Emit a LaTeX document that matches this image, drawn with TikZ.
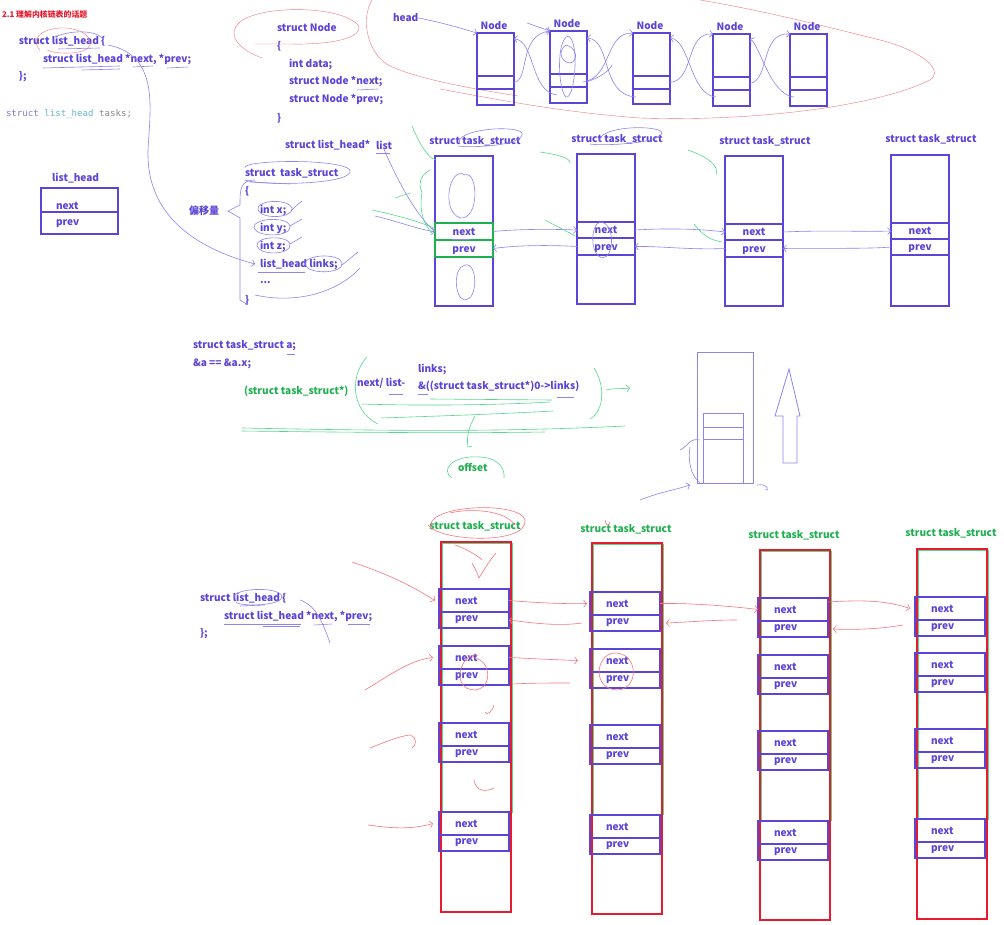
\documentclass[tikz,border=0pt]{standalone}
\usepackage{fontspec}
\setmainfont{Noto Sans CJK SC}
\setmonofont{DejaVu Sans Mono}
\usetikzlibrary{arrows.meta}
\definecolor{pu}{HTML}{5B45D6}
\definecolor{lav}{HTML}{8E84EE}
\definecolor{rd}{HTML}{E81B2E}
\definecolor{pk}{HTML}{F4767E}
\definecolor{gr}{HTML}{1FB04F}
\definecolor{lgr}{HTML}{55D88E}
\definecolor{kw}{HTML}{7B7BD0}
\definecolor{ty}{HTML}{6CB4CC}
\definecolor{gy}{HTML}{8A8A8A}
\begin{document}
\begin{tikzpicture}[x=1pt,y=-1pt,
  every node/.style={inner sep=0pt, outer sep=0pt},
  tx/.style={font=\bfseries\fontsize{10.1}{12}\selectfont, text=pu, anchor=west},
  tc/.style={font=\bfseries\fontsize{10.1}{12}\selectfont, text=pu},
  gt/.style={font=\bfseries\fontsize{10.1}{12}\selectfont, text=gr},
  bx/.style={draw=pu, line width=1.3pt, anchor=north west},
  pcell/.style={draw=pu, line width=1.5pt, anchor=north west, minimum width=70},
  rbox/.style={draw=rd, line width=1.8pt, anchor=north west, minimum width=70},
  sk/.style={draw=lav, line width=0.6pt},
  ska/.style={sk, -{Straight Barb[length=3pt,width=7pt]}},
  rsk/.style={draw=pk, line width=0.6pt},
  rska/.style={rsk, -{Straight Barb[length=3pt,width=7pt]}},
  gsk/.style={draw=lgr, line width=0.6pt},
  gska/.style={gsk, -{Straight Barb[length=3pt,width=7pt]}}
]
\fill[white] (0,0) rectangle (1004,925);
\useasboundingbox (0,0) rectangle (1004,925);

% ---------- top left ----------
\node[anchor=west, text=rd, font=\bfseries\fontsize{7.9}{9}\selectfont] (title) at (2,14) {2.1 理解内核链表的话题};
\node[tx] (lh1) at (19,41) {struct list\_head \{};
\node[tx] (lh2) at (43,59) {struct list\_head *next, *prev;};
\node[tx] (lh3) at (19,77) {\};};
\node[anchor=west, font=\ttfamily\fontsize{9.1}{11}\selectfont] (tasks) at (6,114) {\textcolor{kw}{struct} \textcolor{ty}{list\_head} \textcolor{gy}{tasks;}};
\draw[pk] (40,50) .. controls (28,38) and (45,27) .. (65,28) .. controls (85,29) and (95,40) .. (88,48) .. controls (80,55) and (55,54) .. (47,50);
\draw[sk] (55,37) .. controls (70,30) and (95,30) .. (102,38);
\draw[sk] (58,49) -- (100,48);
\draw[sk] (43,68) -- (120,66);
\draw[sk] (82,70) -- (120,69);
\draw[sk] (133,67) -- (153,66);
\draw[sk] (167,68) -- (188,67);

% list_head box
\node[tx] (lhl) at (52,178) {list\_head};
\node[bx, minimum width=77, minimum height=24] (LHn) at (41,188) {};
\node[bx, minimum width=77, minimum height=22] (LHp) at (41,212) {};
\node[tx] (LHnt) at (56,206) {next};
\node[tx] (LHpt) at (56,224) {prev};

% ---------- struct Node ----------
\node[tx] (sn1) at (277,28) {struct Node};
\node[tx] (sn2) at (277,46) {\{};
\node[tx] (sn3) at (289,64) {int data;};
\node[tx] (sn4) at (289,82) {struct Node *next;};
\node[tx] (sn5) at (289,100) {struct Node *prev;};
\node[tx] (sn6) at (277,118) {\}};
\draw[sk] (357,90) -- (378,89);
\draw[pk] (262,58) .. controls (240,50) and (225,35) .. (240,22) .. controls (260,5) and (340,5) .. (358,25) .. controls (365,38) and (330,45) .. (290,44) .. controls (270,44) and (258,44) .. (255,44);
\draw[pk] (372,0) .. controls (360,20) and (368,55) .. (390,66) .. controls (420,80) and (480,90) .. (518,96);
\draw[pk] (440,89) .. controls (500,100) and (560,112) .. (640,118) .. controls (760,122) and (880,105) .. (930,80) .. controls (945,70) and (920,50) .. (880,40) .. controls (820,25) and (760,10) .. (700,0);

\node[tx] (head) at (393,18) {head};
\foreach \i/\x/\t/\a/\b/\e in {1/477/33/76/89/105, 2/550/31/74/87/103, 3/633/33/76/89/104, 4/713/34/77/90/106, 5/790/34/77/90/106}{
  \node[bx, minimum width=37, minimum height={\a-\t}] (Nb\i) at (\x,\t) {};
  \node[bx, minimum width=37, minimum height={\b-\a}] (Nn\i) at (\x,\a) {};
  \node[bx, minimum width=37, minimum height={\e-\b}, line width=1.7pt] (Np\i) at (\x,\b) {};
  \node[tc, anchor=south] (Nl\i) at ({\x+17},{\t-3}) {Node};
}
\draw[ska] (head.east) .. controls (440,22) and (460,28) .. (Nb1.north west);
\draw[ska] (527,23) -- (Nb2.north west);
\draw[ska] (Nn1.east) .. controls (530,80) and (518,35) .. (Nb2.north west);
\draw[ska] (557,95) .. controls (530,92) and (535,40) .. ([yshift=-6pt]Nb1.north east);
\draw[ska] (583,82) .. controls (612,78) and (605,32) .. (Nb3.north west);
\draw[ska] (636,97) .. controls (600,95) and (612,40) .. ([yshift=-7pt]Nb2.north east);
\draw[ska] (Nn3.east) .. controls (695,80) and (685,32) .. (Nb4.north west);
\draw[ska] (716,97) .. controls (690,95) and (690,40) .. ([yshift=-5pt]Nb3.north east);
\draw[ska] (Nn4.east) .. controls (770,80) and (760,32) .. (Nb5.north west);
\draw[ska] (794,97) .. controls (770,95) and (760,45) .. ([yshift=-5pt]Nb4.north east);
\draw[sk] (568,36) .. controls (556,40) and (558,90) .. (566,97) .. controls (575,100) and (580,40) .. (568,36);
\draw[sk] (566,45) .. controls (558,50) and (560,62) .. (570,63) .. controls (578,62) and (578,48) .. (566,45);
\draw[sk] (586,82) .. controls (600,78) and (610,70) .. (612,65);

% ---------- struct task_struct code ----------
\node[tx] (tl0) at (245,173) {struct\ \ task\_struct};
\node[tx] (tl1) at (245,191) {\{};
\node[tx] (tl2) at (260,210) {int x;};
\node[tx] (tl3) at (260,228) {int y;};
\node[tx] (tl4) at (260,246) {int z;};
\node[tx] (tl5) at (260,264) {list\_head links;};
\node[tx] (tl6) at (260,283) {...};
\node[tx] (tl7) at (245,300) {\}};
\node[tx] (off) at (189,211) {偏移量};
\draw[sk] (245,168) .. controls (240,160) and (340,158) .. (350,170) .. controls (355,185) and (260,186) .. (245,180);
\draw[sk] (250,182) -- (290,184);
\draw[sk] (255,180) .. controls (240,180) and (240,190) .. (240,205) -- (228,211) -- (240,218) -- (240,300) -- (248,305);
\draw[sk] (258,210) .. controls (255,200) and (288,198) .. (292,208) .. controls (294,218) and (262,220) .. (258,210);
\draw[sk] (254,228) .. controls (252,218) and (288,216) .. (290,226) .. controls (292,237) and (258,238) .. (254,228);
\draw[sk] (257,246) .. controls (255,236) and (288,235) .. (290,244) .. controls (292,255) and (260,256) .. (257,246);
\draw[sk] (305,264) .. controls (305,254) and (340,253) .. (342,263) .. controls (344,274) and (307,275) .. (305,264);
\draw[sk] (292,210) -- (297,205) -- (302,201);
\draw[sk] (290,226) -- (302,219);
\draw[sk] (290,244) -- (302,237);
\draw[sk] (342,265) -- (358,252);
\draw[sk] (258,272) -- (305,272);
\draw[sk] (255,295) .. controls (300,305) and (340,290) .. (360,268);
\draw[ska] (108,45) .. controls (160,55) and (150,110) .. (148,150) .. controls (146,215) and (195,248) .. ([xshift=-5pt]tl5.west);

% ---------- middle row ----------
\node[tx] (lpt) at (285,145) {struct list\_head*};
\node[tx] (lst) at (376,145) {list};
\draw[sk] (376,153) -- (390,153);
\foreach \n/\x/\t/\a/\b/\c/\e/\ly in {A/435/156/223/240/257/306/141, B/577/154/222/238/255/304/139, C/725/156/224/240/257/306/141, D/891/155/223/239/255/306/139}{
  \node[bx, minimum width=58, minimum height={\e-\t}] (\n) at (\x,\t) {};
  \node[bx, minimum width=58, minimum height={\b-\a}] (\n n) at (\x,\a) {};
  \node[bx, minimum width=58, minimum height={\c-\b}, line width=1.6pt] (\n p) at (\x,\b) {};
  \node[tc] (\n nt) at ({\x+29},{(\a+\b)/2}) {next};
  \node[tc] (\n pt) at ({\x+29},{(\b+\c)/2+2}) {prev};
  \node[tc] (\n l) at ({\x+40},\ly) {struct task\_struct};
}
\draw[gr, line width=1.8pt] (An.north west) rectangle (Ap.south east);
\draw[gr, line width=1.8pt] (An.south west) -- (An.south east);
\draw[sk] (452,239) -- (470,239);
\draw[ska] (lst.south) .. controls (395,175) and (415,215) .. (An.west);
\draw[ska] (375,216) .. controls (400,222) and (420,230) .. (An.west);
\draw[ska] (An.east) .. controls (520,229) and (550,229) .. (Bn.west);
\draw[ska] (Bp.west) .. controls (550,245) and (520,245) .. (Ap.east);
\draw[ska] (Bn.east) .. controls (670,228) and (700,229) .. (Cn.west);
\draw[ska] (Cp.west) .. controls (690,250) and (660,246) .. (Bp.east);
\draw[ska] (Cn.east) .. controls (830,230) and (860,232) .. (Dn.west);
\draw[ska] (Dp.west) .. controls (870,249) and (820,248) .. (Cp.east);
\draw[sk] (460,144) .. controls (452,130) and (515,124) .. (522,133) .. controls (525,146) and (470,148) .. (458,146);
\draw[sk] (600,142) .. controls (595,126) and (660,124) .. (662,133) .. controls (660,144) and (600,146) .. (590,144);
\draw[sk] (465,175) .. controls (450,165) and (440,210) .. (460,218) .. controls (480,220) and (478,170) .. (465,175);
\draw[sk] (465,265) .. controls (452,268) and (455,300) .. (465,300) .. controls (478,300) and (478,262) .. (465,265);
\draw[sk] (600,222) .. controls (590,225) and (590,255) .. (602,258) .. controls (615,258) and (615,222) .. (600,222);
\draw[gsk] (412,126) .. controls (420,145) and (428,158) .. (436,160);
\draw[gsk] (430,170) .. controls (420,175) and (418,185) .. (422,192) .. controls (420,205) and (420,220) .. (432,233);
\draw[gsk] (395,198) -- (410,193);
\draw[gsk] (372,210) .. controls (400,216) and (420,222) .. (434,228);
\draw[gsk] (540,152) .. controls (560,155) and (570,158) .. (570,163);
\draw[gsk] (545,220) .. controls (560,228) and (568,232) .. (575,236);
\draw[gsk] (688,150) .. controls (705,156) and (720,165) .. (716,175);
\draw[gsk] (694,224) .. controls (705,238) and (712,240) .. (722,242);

% ---------- middle code ----------
\node[tx] (a1) at (193,346) {struct task\_struct a;};
\node[tx] (a2) at (193,364) {\&a == \&a.x;};
\node[gt, anchor=west] (cast) at (244,391) {(struct task\_struct*)};
\node[tx] (nl) at (357,383) {next/ list-};
\node[tx] (lk) at (418,369) {links;};
\node[tx] (of) at (418,386) {\&((struct task\_struct*)0->links)};
\node[gt, anchor=west] (offs) at (458,467) {offset};
\draw[sk] (287,354) -- (295,354);
\draw[sk] (389,394) -- (403,394);
\draw[sk] (418,394) -- (428,394);
\draw[sk] (557,397) -- (574,397);
\draw[gsk] (367,357) .. controls (350,375) and (350,410) .. (378,424);
\draw[gsk] (594,368) .. controls (605,385) and (605,410) .. (590,419);
\draw[gska] (606,390) .. controls (615,388) and (622,389) .. (630,388);
\draw[gsk] (430,399) -- (552,400);
\draw[gsk] (362,404) .. controls (420,406) and (500,405) .. (550,402);
\draw[gsk] (381,418) .. controls (440,416) and (500,414) .. (553,411);
\draw[gsk] (242,428) .. controls (400,431) and (500,432) .. (625,426);
\draw[gsk] (242,431) .. controls (400,433) and (480,433) .. (545,432);
\draw[gsk] (475,416) .. controls (470,425) and (466,435) .. (468,447) -- (472,446);
\draw[gsk] (452,478) .. controls (440,470) and (452,455) .. (480,457) .. controls (500,458) and (505,470) .. (504,478);

% stack sketch
\node[draw=lav, line width=0.8pt, anchor=north west, minimum width=56, minimum height=131] (st) at (697,352) {};
\node[draw=lav, line width=0.8pt, anchor=north west, minimum width=40, minimum height=14] (st1) at (703,413) {};
\node[draw=lav, line width=0.8pt, anchor=north west, minimum width=40, minimum height=12] (st2) at (703,427) {};
\node[draw=lav, line width=0.8pt, anchor=north west, minimum width=40, minimum height=44] (st3) at (703,439) {};
\draw[lav, line width=0.8pt] (783,463) -- (783,416) -- (775,416) -- (789,369) -- (800,416) -- (797,416) -- (797,463) -- cycle;
\draw[ska] (640,500) .. controls (660,492) and (675,490) .. (690,485);
\draw[sk] (680,450) .. controls (690,445) and (688,438) .. (700,440);
\draw[sk] (690,447) .. controls (688,460) and (690,475) .. (700,483);
\draw[sk] (757,485) .. controls (768,483) and (770,492) .. (765,490);

% ---------- bottom ----------
\node[tx] (b1) at (200,598) {struct list\_head \{};
\node[tx] (b2) at (224,616) {struct list\_head *next, *prev;};
\node[tx] (b3) at (200,634) {\};};
\draw[sk] (234,598) .. controls (232,588) and (278,586) .. (282,596) .. controls (284,606) and (240,607) .. (236,602);
\draw[sk] (240,606) -- (265,605);
\draw[sk] (224,624) -- (301,624);
\draw[sk] (263,626) -- (300,626);
\draw[sk] (314,625) -- (332,624);
\draw[sk] (348,624) -- (370,624);
\draw[sk] (300,600) .. controls (315,605) and (322,620) .. (330,643);

\foreach \cc/\xl/\tp/\bt/\ga/\gb/\gg/\gd/\ly in {1/441/542/912/589/646/723/812/526, 2/592/543/914/592/649/725/815/529, 3/760/550/920/598/655/731/821/535, 4/917/549/919/597/653/729/819/533}{
  \draw[lgr, line width=0.8pt] ({\xl+1.5},{\tp+1}) rectangle ({\xl+71.5},{\bt-100});
  \node[rbox, minimum height={\bt-\tp}] (R\cc) at (\xl,\tp) {};
  \node[gt] (L\cc) at ({\xl+34},\ly) {struct task\_struct};
  \foreach \ty [count=\gi] in {\ga,\gb,\gg,\gd}{
    \node[pcell, minimum height=23] (Cn\cc\gi) at ({\xl-2},\ty) {};
    \node[pcell, minimum height=16] (Cp\cc\gi) at ({\xl-2},{\ty+23}) {};
    \node[tx] (Tn\cc\gi) at ({\xl+14},{\ty+12}) {next};
    \node[tx] (Tp\cc\gi) at ({\xl+14},{\ty+31}) {prev};
    \draw[pu, line width=2.6pt] (Cn\cc\gi.north west) -- (Cn\cc\gi.north east);
    \draw[pu, line width=2.4pt] (Cn\cc\gi.north west) -- (Cp\cc\gi.south west);
  }
}
% red link sketches
\draw[rska] (Cn11.east) .. controls (540,603) and (565,604) .. ([xshift=-3pt]Cn21.west);
\draw[rska] ([xshift=-8pt]Cp21.west) .. controls (560,626) and (540,624) .. (Cp11.east);
\draw[rska] (Cn21.east) .. controls (690,603) and (730,606) .. (Cn31.west);
\draw[rska] (737,620) .. controls (710,620) and (690,622) .. ([xshift=6pt]Cp21.east);
\draw[rska] (828,602) .. controls (860,600) and (885,600) .. ([xshift=-5pt]Cn41.west);
\draw[rska] (903,625) .. controls (880,629) and (855,630) .. ([xshift=5pt]Cp31.east);
\draw[rska] (Cn12.east) .. controls (540,659) and (560,660) .. ([xshift=-12pt]Cn22.west);
\draw[rsk] (570,683) .. controls (550,683) and (530,683) .. (512,684);
\draw[rska] (352,562) .. controls (390,575) and (410,585) .. ([xshift=-4pt]Cn11.west);
\draw[rska] (365,690) .. controls (390,675) and (410,660) .. ([xshift=-6pt]Cn12.west);
\draw[rsk] (370,748) .. controls (385,742) and (400,736) .. (410,735) .. controls (418,738) and (416,745) .. (412,748);
\draw[rska] (368,825) .. controls (390,828) and (410,830) .. ([xshift=-6pt]Cn14.west);
\draw[rsk] (432,530) .. controls (418,505) and (520,500) .. (525,520) .. controls (528,545) and (440,542) .. (428,525);
\draw[rsk] (450,513) .. controls (470,508) and (505,510) .. (515,525);
\draw[rsk] (455,545) .. controls (470,550) and (480,558) .. (482,560);
\draw[rsk] (472,563) .. controls (476,570) and (478,575) .. (479,578) .. controls (485,568) and (490,560) .. (496,553);
\draw[rsk] (478,655) .. controls (460,652) and (450,690) .. (475,690) .. controls (495,688) and (490,655) .. (470,658);
\draw[rsk] (614,653) .. controls (595,655) and (592,690) .. (618,690) .. controls (640,688) and (638,652) .. (614,653);
\draw[rsk] (485,712) .. controls (487,716) and (492,712) .. (494,705);
\draw[rsk] (474,780) .. controls (476,792) and (486,792) .. (494,788);
\draw[rsk] (605,520) .. controls (606,525) and (608,528) .. (610,522);
\end{tikzpicture}
\end{document}
